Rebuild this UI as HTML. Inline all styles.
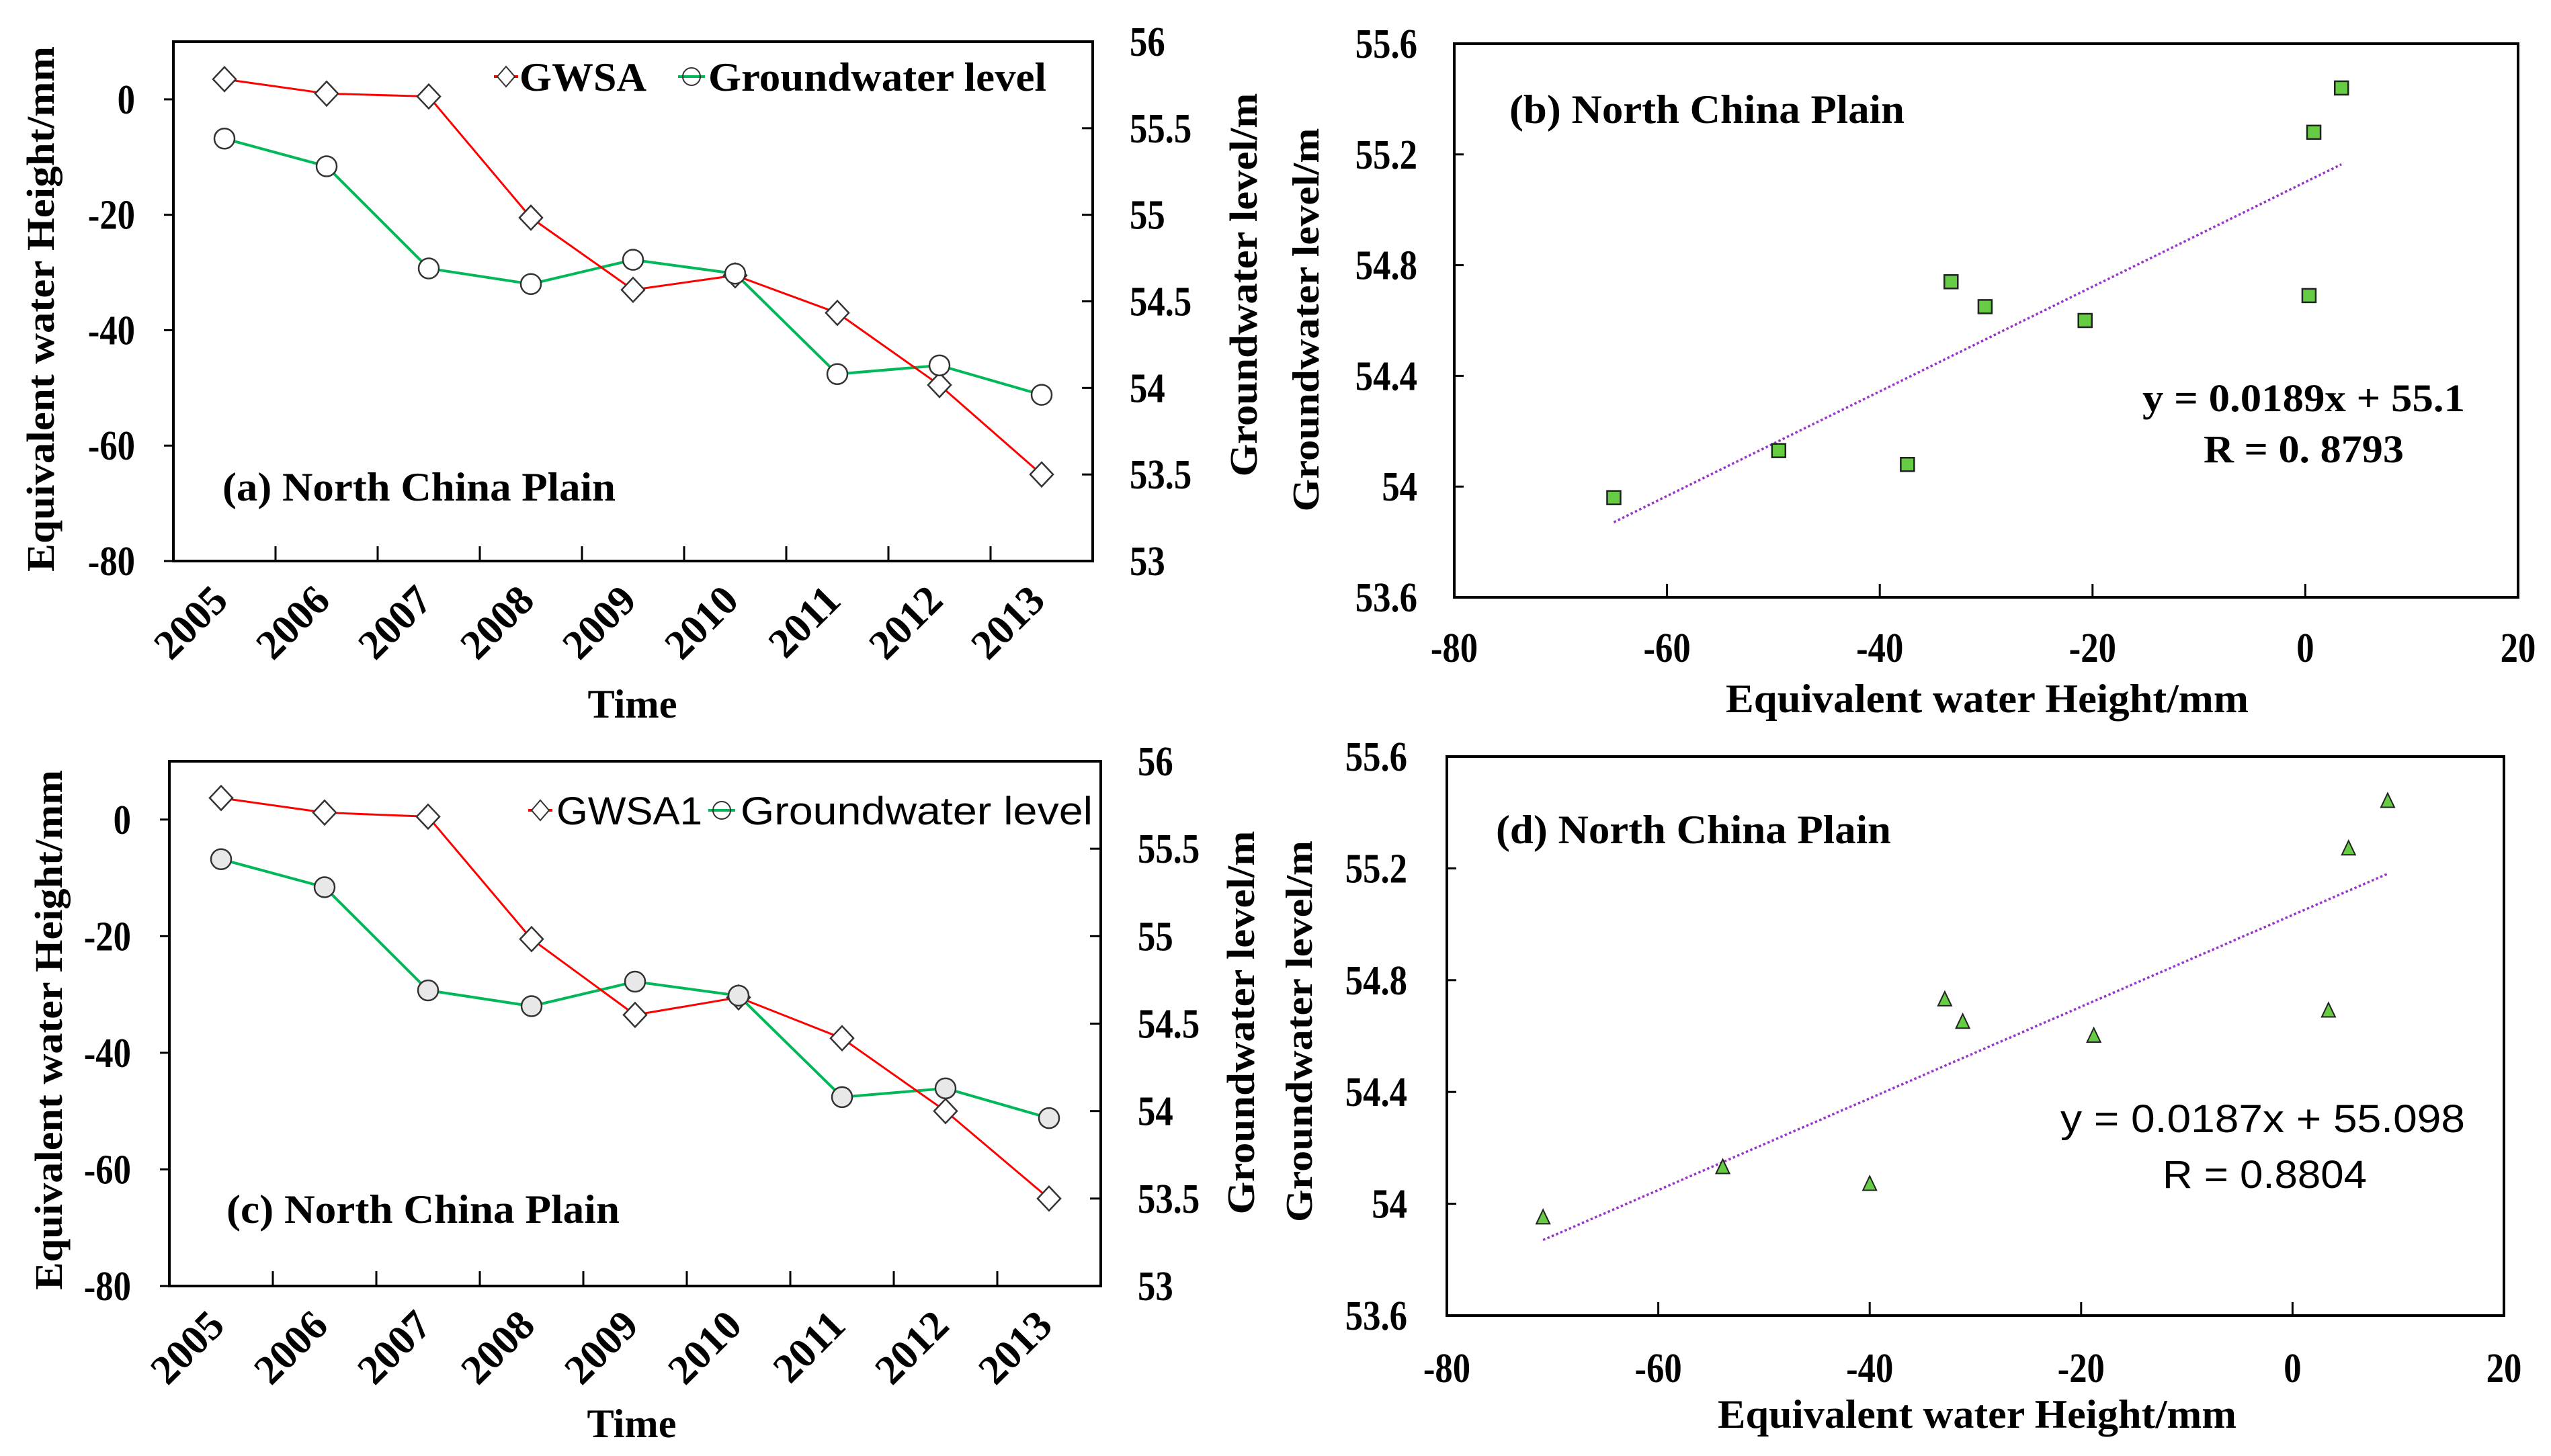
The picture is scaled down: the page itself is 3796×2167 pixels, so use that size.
<!DOCTYPE html>
<html><head><meta charset="utf-8">
<style>
html,body{margin:0;padding:0;background:#fff;}
svg{display:block;}
.serif{font-family:"Liberation Serif",serif;font-weight:bold;}
.sans{font-family:"Liberation Sans",sans-serif;}
</style></head>
<body>
<svg id="fig" width="3796" height="2167" viewBox="0 0 3796 2167" xmlns="http://www.w3.org/2000/svg"></svg>
<script>
// ---- data ----
const years = ["2005","2006","2007","2008","2009","2010","2011","2012","2013"];
const gwsa = [3.5, 1.0, 0.5, -20.5, -33.0, -30.5, -37.0, -49.5, -65.0];
const gwsa1 = [3.7, 1.2, 0.5, -20.5, -33.5, -30.5, -37.5, -50.0, -65.0];
const gwLevel = [55.44, 55.28, 54.69, 54.60, 54.74, 54.66, 54.08, 54.13, 53.96];
const scatterBX = [3.4, 0.8, 0.35, -20.7, -33.3, -30.1, -37.4, -49.5, -65.0];
const scatterBY = [55.44, 55.28, 54.69, 54.60, 54.74, 54.65, 54.08, 54.13, 53.96];
const scatterDX = [9.0, 5.3, 3.4, -18.8, -32.9, -31.2, -40.0, -53.9, -70.9];
const scatterDY = [55.44, 55.27, 54.69, 54.60, 54.73, 54.65, 54.07, 54.13, 53.95];
const leftTicks = [0, -20, -40, -60, -80];
const rightTicks = [56, 55.5, 55, 54.5, 54, 53.5, 53];
const rightTickLabels = ["56","55.5","55","54.5","54","53.5","53"];
const scatXTicks = [-80, -60, -40, -20, 0, 20];
const scatYTicks = [55.6, 55.2, 54.8, 54.4, 54, 53.6];
const scatYTickLabels = ["55.6","55.2","54.8","54.4","54","53.6"];
const fitB = [0.0189, 55.1];
const fitD = [0.0164, 55.033];

const NS = "http://www.w3.org/2000/svg";
const fig = document.getElementById('fig');
function mk(tag, attrs, parent, text){
  const e = document.createElementNS(NS, tag);
  for (const k in attrs) e.setAttribute(k, attrs[k]);
  if (text !== undefined) e.textContent = text;
  (parent || fig).appendChild(e);
  return e;
}

// ---- line panels ----
function linePanel(cfg){
  const g = mk('g', {});
  
  
  const L = cfg.L, R = cfg.R, T = cfg.T, B = cfg.B;
  const ly = v => B - (v - (-80)) / 90 * (B - T);
  const ry = v => B - (v - 53) / 3 * (B - T);
  const bw = (R - L) / years.length;
  const cx = i => L + bw * (i + 0.5);
  const fr = mk('rect', {x:L, y:T, width:R-L, height:B-T, fill:'none', stroke:'#000', 'stroke-width':4}, g);
  
  
  leftTicks.forEach(v => {
    const y = ly(v);
    const t = mk('line', {x1:L-14, x2:L, y1:y, y2:y, stroke:'#000', 'stroke-width':3}, g);
    
    
    const tx = mk('text', {x:cfg.lLabX, y:y+21, 'text-anchor':'end', 'font-size':62, class:'serif', transform:`translate(${cfg.lLabX},0) scale(0.85,1) translate(${-cfg.lLabX},0)`}, g, String(v));
    
    
  });
  rightTicks.forEach((v, i) => {
    const y = ry(v);
    const t = mk('line', {x1:R-16, x2:R, y1:y, y2:y, stroke:'#000', 'stroke-width':3}, g);
    
    
    const tx = mk('text', {x:cfg.rLabX, y:y+21, 'text-anchor':'start', 'font-size':62, class:'serif', transform:`translate(${cfg.rLabX},0) scale(0.85,1) translate(${-cfg.rLabX},0)`}, g, rightTickLabels[i]);
    
    
  });
  for (let i = 1; i < years.length; i++){
    const x = L + bw * i;
    const t = mk('line', {x1:x, x2:x, y1:B-22, y2:B, stroke:'#000', 'stroke-width':3}, g);
    
    
  }
  years.forEach((yr, i) => {
    const x = cx(i) + 8, y = B + 62;
    const tx = mk('text', {x:x, y:y, 'text-anchor':'end', 'font-size':62, class:'serif', transform:`rotate(-45 ${x} ${y})`}, g, yr);
    
    
  });
  const gp = gwLevel.map((v, i) => `${cx(i)},${ry(v)}`).join(' ');
  const gl = mk('polyline', {points:gp, fill:'none', stroke:'#00b858', 'stroke-width':4}, g);
  
  
  const rp = cfg.red.map((v, i) => `${cx(i)},${ly(v)}`).join(' ');
  const rl = mk('polyline', {points:rp, fill:'none', stroke:'#ff0000', 'stroke-width':3}, g);
  
  
  cfg.red.forEach((v, i) => {
    const x = cx(i), y = ly(v);
    const d = mk('polygon', {points:`${x},${y-18} ${x+17},${y} ${x},${y+18} ${x-17},${y}`, fill:'#fff', stroke:'#333', 'stroke-width':2.5}, g);
    
    
  });
  gwLevel.forEach((v, i) => {
    const c = mk('circle', {cx:cx(i), cy:ry(v), r:15, fill:cfg.circFill, stroke:'#333', 'stroke-width':2.5}, g);
    
    
  });
  const lg = mk('g', {}, g);
  
  
  const ly0 = cfg.legY;
  mk('line', {x1:cfg.lm1-18, x2:cfg.lm1+18, y1:ly0, y2:ly0, stroke:'#ff0000', 'stroke-width':4}, lg);
  mk('polygon', {points:`${cfg.lm1},${ly0-15} ${cfg.lm1+13},${ly0} ${cfg.lm1},${ly0+15} ${cfg.lm1-13},${ly0}`, fill:'#fff', stroke:'#333', 'stroke-width':2}, lg);
  const t1 = mk('text', {x:cfg.lt1, y:ly0+21, 'font-size':cfg.legFS, class:cfg.legCls, textLength:cfg.lt1w, lengthAdjust:'spacingAndGlyphs'}, lg, cfg.redLabel);
  
  
  mk('line', {x1:cfg.lm2-20, x2:cfg.lm2+20, y1:ly0, y2:ly0, stroke:'#00b858', 'stroke-width':4}, lg);
  mk('circle', {cx:cfg.lm2, cy:ly0, r:13, fill:'none', stroke:'#333', 'stroke-width':2}, lg);
  const t2 = mk('text', {x:cfg.lt2, y:ly0+21, 'font-size':cfg.legFS, class:cfg.legCls, textLength:cfg.lt2w, lengthAdjust:'spacingAndGlyphs'}, lg, 'Groundwater level');
  
  
  const pl = mk('text', {x:cfg.plX, y:cfg.plY, 'font-size':60, class:'serif', textLength:585, lengthAdjust:'spacingAndGlyphs'}, g, cfg.panelLabel);
  
  
  const lt = mk('text', {x:0, y:0, 'font-size':58, class:'serif', 'text-anchor':'middle', textLength:cfg.ltLen, lengthAdjust:'spacingAndGlyphs', transform:`translate(${cfg.ltX},${cfg.ltY}) rotate(-90)`}, g, 'Equivalent water Height/mm');
  
  
  const rt = mk('text', {x:0, y:0, 'font-size':58, class:'serif', 'text-anchor':'middle', textLength:cfg.rtLen, lengthAdjust:'spacingAndGlyphs', transform:`translate(${cfg.rtX},${cfg.rtY}) rotate(-90)`}, g, 'Groundwater level/m');
  
  
  const tt = mk('text', {x:cfg.timeX, y:cfg.timeY, 'font-size':60, class:'serif', 'text-anchor':'middle', textLength:133, lengthAdjust:'spacingAndGlyphs'}, g, 'Time');
  
  
}

linePanel({name:'panel-a', L:258, R:1626, T:62, B:835, red:gwsa, redName:'gwsa', redLabel:'GWSA',
  lLabX:201, rLabX:1681, circFill:'#fff',
  legY:114, lm1:753, lt1:773, lt1w:189, lm2:1029, lt2:1054, lt2w:503, legFS:60, legCls:'serif',
  plX:331, plY:745, panelLabel:'(a) North China Plain',
  ltX:80, ltY:460, ltLen:782, rtX:1870, rtY:424, rtLen:571, timeX:941, timeY:1068});
linePanel({name:'panel-c', L:252, R:1638, T:1133, B:1914, red:gwsa1, redName:'gwsa1', redLabel:'GWSA1',
  lLabX:195, rLabX:1693, circFill:'#e8e8e8',
  legY:1206, lm1:804, lt1:828, lt1w:217, lm2:1074, lt2:1102, lt2w:524, legFS:58, legCls:'sans',
  plX:337, plY:1820, panelLabel:'(c) North China Plain',
  ltX:92, ltY:1533, ltLen:774, rtX:1866, rtY:1522, rtLen:571, timeX:940, timeY:2139});

// ---- scatter panels ----
function scatterPanel(cfg){
  const g = mk('g', {});
  
  
  const L = cfg.L, R = cfg.R, T = cfg.T, B = cfg.B;
  const sx = v => L + (v + 80) / 100 * (R - L);
  const sy = v => B - (v - 53.6) / 2 * (B - T);
  const fr = mk('rect', {x:L, y:T, width:R-L, height:B-T, fill:'none', stroke:'#000', 'stroke-width':4}, g);
  
  
  scatYTicks.forEach((v, i) => {
    const y = sy(v);
    const t = mk('line', {x1:L, x2:L+14, y1:y, y2:y, stroke:'#000', 'stroke-width':3}, g);
    
    
    const tx = mk('text', {x:cfg.yLabX, y:y+21, 'text-anchor':'end', 'font-size':62, class:'serif', transform:`translate(${cfg.yLabX},0) scale(0.85,1) translate(${-cfg.yLabX},0)`}, g, scatYTickLabels[i]);
    
    
  });
  scatXTicks.forEach(v => {
    const x = sx(v);
    const t = mk('line', {x1:x, x2:x, y1:B-20, y2:B, stroke:'#000', 'stroke-width':3}, g);
    
    
    const tx = mk('text', {x:x, y:cfg.xLabY, 'text-anchor':'middle', 'font-size':62, class:'serif', transform:`translate(${x},0) scale(0.85,1) translate(${-x},0)`}, g, String(v));
    
    
  });
  const xs = cfg.X, ys = cfg.Y;
  const x0 = Math.min(...xs), x1 = Math.max(...xs);
  const tl = mk('line', {x1:sx(x0), y1:sy(cfg.fit[0]*x0+cfg.fit[1]), x2:sx(x1), y2:sy(cfg.fit[0]*x1+cfg.fit[1]), stroke:'#9933cc', 'stroke-width':3.5, 'stroke-dasharray':'3.5 3.5'}, g);
  
  
  xs.forEach((v, i) => {
    const x = sx(v), y = sy(ys[i]);
    let m;
    if (cfg.marker === 'square'){
      m = mk('rect', {x:x-10, y:y-10, width:20, height:20, fill:'#66cc44', stroke:'#222', 'stroke-width':2.5}, g);
    } else {
      m = mk('polygon', {points:`${x},${y-12} ${x+10},${y+9} ${x-10},${y+9}`, fill:'#66cc44', stroke:'#222', 'stroke-width':2}, g);
    }
    
    
  });
  const pl = mk('text', {x:cfg.plX, y:cfg.plY, 'font-size':60, class:'serif', textLength:588, lengthAdjust:'spacingAndGlyphs'}, g, cfg.panelLabel);
  
  
  const e1 = mk('text', {x:cfg.eqX, y:cfg.eqY, 'font-size':58, class:cfg.eqCls, textLength:cfg.eqW, lengthAdjust:'spacingAndGlyphs'}, g, cfg.eq);
  
  
  const e2 = mk('text', {x:cfg.rX, y:cfg.rY, 'font-size':58, class:cfg.eqCls, textLength:cfg.rW, lengthAdjust:'spacingAndGlyphs'}, g, cfg.r);
  
  
  const xt = mk('text', {x:cfg.xtX, y:cfg.xtY, 'font-size':60, class:'serif', textLength:cfg.xtW, lengthAdjust:'spacingAndGlyphs'}, g, 'Equivalent water Height/mm');
  
  
  const yt = mk('text', {x:0, y:0, 'font-size':56, class:'serif', 'text-anchor':'middle', textLength:cfg.ytLen, lengthAdjust:'spacingAndGlyphs', transform:`translate(${cfg.ytX},${cfg.ytY}) rotate(-90)`}, g, 'Groundwater level/m');
  
  
}

scatterPanel({name:'panel-b', L:2164, R:3747, T:65, B:889, X:scatterBX, Y:scatterBY, fit:fitB, marker:'square',
  yLabX:2109, xLabY:985, plX:2246, plY:183, panelLabel:'(b) North China Plain',
  eq:'y = 0.0189x + 55.1', eqX:3188, eqY:612, eqW:480, eqCls:'serif',
  r:'R = 0. 8793', rX:3279, rY:688, rW:298,
  xtX:2568, xtY:1060, xtW:778, ytX:1962, ytY:476, ytLen:571});
scatterPanel({name:'panel-d', L:2153, R:3726, T:1126, B:1958, X:scatterDX, Y:scatterDY, fit:fitD, marker:'triangle',
  yLabX:2094, xLabY:2057, plX:2226, plY:1255, panelLabel:'(d) North China Plain',
  eq:'y = 0.0187x + 55.098', eqX:3066, eqY:1685, eqW:602, eqCls:'sans',
  r:'R = 0.8804', rX:3218, rY:1768, rW:304,
  xtX:2556, xtY:2125, xtW:772, ytX:1952, ytY:1535, ytLen:568});
</script>
</body></html>
